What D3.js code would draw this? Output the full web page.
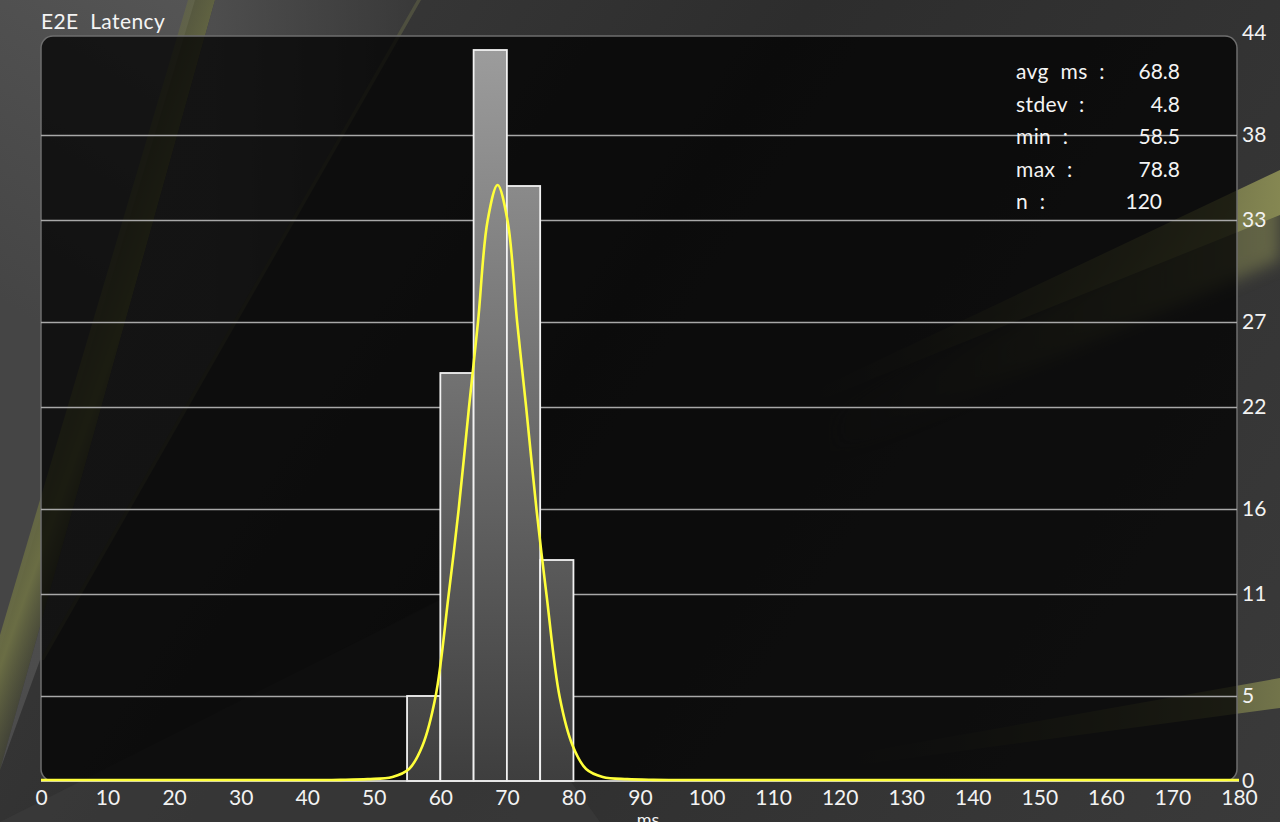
<!DOCTYPE html>
<html>
<head>
<meta charset="utf-8">
<script src="https://cdn.jsdelivr.net/npm/d3@7"></script>
<style>
  html, body { margin: 0; padding: 0; background: #333; }
  svg { display: block; font-family: Lato, "Noto Sans", sans-serif; }
  text { white-space: pre; }
</style>
</head>
<body>
<div id="chart"></div>
<script>
// histogram bins (ms) and counts
var binStarts = [55, 60, 65, 70, 75];
var binCounts = [5, 24, 43, 35, 13];
var binWidth = 5;

// fitted curve (ms, count)
var curveMs    = [0, 40, 45, 49.1, 52.8, 55.3, 57.3, 59.3, 61.25, 62.75, 64.3, 65.65, 67.1, 68.6, 70.1, 71.55, 72.9, 74.45, 75.95, 77.9, 79.9, 81.9, 84.4, 88.1, 92, 97, 180];
var curveCount = [0, 0, 0.01, 0.05, 0.18, 0.65, 2.0, 4.94, 10.9, 15.9, 21.9, 26.9, 32.9, 35.0, 32.9, 26.9, 21.9, 15.9, 10.9, 4.94, 2.0, 0.65, 0.18, 0.05, 0.01, 0, 0];

var xTicks = [0, 10, 20, 30, 40, 50, 60, 70, 80, 90, 100, 110, 120, 130, 140, 150, 160, 170, 180];
var yTicks = [0, 5, 11, 16, 22, 27, 33, 38, 44];

var statLabels = ["avg  ms  :", "stdev  :", "min  :", "max  :", "n  :"];
var statValues = ["68.8", "4.8", "58.5", "78.8", "120"];

var W = 1280, H = 822;
var svg = d3.select("#chart").append("svg")
  .attr("width", W)
  .attr("height", H);

var defs = svg.append("defs");

function linGrad(id, x1, y1, x2, y2, stops) {
  var g = defs.append("linearGradient").attr("id", id)
    .attr("gradientUnits", "userSpaceOnUse")
    .attr("x1", x1).attr("y1", y1).attr("x2", x2).attr("y2", y2);
  stops.forEach(function(s) {
    g.append("stop").attr("offset", s[0]).attr("stop-color", s[1]).attr("stop-opacity", s[2] == null ? 1 : s[2]);
  });
}

linGrad("bgBase", 0, 0, 1280, 822, [[0, "#3e3e3e"], [0.45, "#2d2d2d"], [1, "#3a3a3a"]]);
linGrad("leftLight", 0, 300, 200, 0, [[0, "#454545"], [1, "#555555"]]);
linGrad("leftStreak", 0, 380, 140, 430, [[0, "#62653f", 0.15], [0.65, "#6d7045", 0.95], [1, "#55573a", 0]]);
linGrad("topMid", 215, 0, 417, 0, [[0, "#525252"], [1, "#3a3a3a"]]);
linGrad("rightStreak", 1280, 0, 820, 0, [[0, "#858752"], [0.5, "#606240", 0.7], [1, "#4a4b35", 0]]);
linGrad("rightLow", 1280, 0, 820, 0, [[0, "#72744a"], [0.5, "#55573c", 0.6], [1, "#3a3a3a", 0]]);
linGrad("barFill", 0, 33, 0, 781, [[0, "#9e9e9e"], [1, "#3e3e3e"]]);

// soft blur for the wallpaper streaks
defs.append("filter").attr("id", "soft")
  .attr("x", "-10%").attr("y", "-20%").attr("width", "120%").attr("height", "140%")
  .append("feGaussianBlur").attr("stdDeviation", 8);

// wallpaper behind the plot
var bg = svg.append("g");
bg.append("rect").attr("width", W).attr("height", H).attr("fill", "url(#bgBase)");
bg.append("path").attr("d", "M0,0L195,0L0,650Z").attr("fill", "url(#leftLight)");
bg.append("path").attr("d", "M188,0L215,0L0,770L0,635Z").attr("fill", "url(#leftStreak)");
bg.append("path").attr("d", "M215,0L417,0L40,660L0,770Z").attr("fill", "url(#topMid)").attr("opacity", 0.8);
bg.append("path").attr("d", "M417,0L421,0L44,660L40,660Z").attr("fill", "#5f6146").attr("opacity", 0.6);
bg.append("path").attr("d", "M1280,190L1280,260L820,460L820,420Z").attr("fill", "url(#rightStreak)").attr("filter", "url(#soft)").attr("opacity", 0.6);
bg.append("path").attr("d", "M1280,170L1280,215L820,400L820,388Z").attr("fill", "url(#rightStreak)");
bg.append("path").attr("d", "M1280,678L1280,708L820,770L820,760Z").attr("fill", "url(#rightLow)");
bg.append("path").attr("d", "M0,822L440,600L600,822Z").attr("fill", "#3c3c3c").attr("opacity", 0.6);

var x = d3.scaleLinear().domain([0, 180]).range([41, 1239]);
var y = d3.scaleLinear().domain([0, 44]).range([781, 33]);

// dark plot panel
svg.append("rect")
  .attr("x", 41).attr("y", 36)
  .attr("width", 1196).attr("height", 745)
  .attr("rx", 12)
  .attr("fill", "#000")
  .attr("fill-opacity", 0.74)
  .attr("stroke", "#6e6e6e")
  .attr("stroke-width", 1.5);

// gridlines
svg.append("g").selectAll("line")
  .data(yTicks.filter(function(d) { return d > 0 && d < 44; }))
  .enter().append("line")
  .attr("x1", 41).attr("x2", 1237)
  .attr("y1", function(d) { return y(d) + 0.5; })
  .attr("y2", function(d) { return y(d) + 0.5; })
  .attr("stroke", "#a8a8a8")
  .attr("stroke-width", 1.3);

// bars
svg.append("g").selectAll("rect")
  .data(binStarts)
  .enter().append("rect")
  .attr("x", function(d) { return x(d); })
  .attr("y", function(d, i) { return y(binCounts[i]); })
  .attr("width", function(d) { return x(d + binWidth) - x(d); })
  .attr("height", function(d, i) { return y(0) - y(binCounts[i]); })
  .attr("fill", "url(#barFill)")
  .attr("stroke", "#f2f2f2")
  .attr("stroke-width", 1.8);

// baseline
svg.append("line")
  .attr("x1", 41).attr("x2", 1239)
  .attr("y1", y(0)).attr("y2", y(0))
  .attr("stroke", "#e8e8e8").attr("stroke-width", 1.5);

// fitted curve
var pts = curveMs.map(function(d, i) { return [d, curveCount[i]]; });
var line = d3.line()
  .x(function(d) { return x(d[0]); })
  .y(function(d) { return y(d[1]) - 1; })
  .curve(d3.curveCatmullRom.alpha(0.5));
svg.append("path")
  .attr("d", line(pts))
  .attr("fill", "none")
  .attr("stroke", "#ffff3a")
  .attr("stroke-width", 2.6);

// axes
var xAxis = svg.append("g")
  .attr("transform", "translate(0," + y(0) + ")")
  .call(d3.axisBottom(x).tickValues(xTicks).tickSize(0).tickPadding(9));
var yAxis = svg.append("g")
  .attr("transform", "translate(1239,0)")
  .call(d3.axisRight(y).tickValues(yTicks).tickSize(0).tickPadding(3));
[xAxis, yAxis].forEach(function(a) {
  a.select(".domain").remove();
  a.selectAll("text")
    .attr("fill", "#f2f2f2")
    .style("font-size", "21px")
    .style("font-family", "Lato, 'Noto Sans', sans-serif");
});

svg.append("text")
  .attr("x", 648).attr("y", 826)
  .attr("text-anchor", "middle")
  .attr("fill", "#f2f2f2")
  .style("font-size", "18px")
  .text("ms");

// title
svg.append("text")
  .attr("x", 41).attr("y", 29)
  .attr("fill", "#f4f4f4")
  .style("font-size", "21px")
  .style("letter-spacing", "0.4px")
  .text("E2E  Latency");

// stats box
var stats = svg.append("g");
statLabels.forEach(function(lab, i) {
  var yy = 79 + i * 32.5;
  stats.append("text")
    .attr("x", 1016).attr("y", yy)
    .attr("fill", "#f4f4f4")
    .style("font-size", "21px")
    .style("letter-spacing", "0.4px")
    .text(lab);
  stats.append("text")
    .attr("x", i == statLabels.length - 1 ? 1162 : 1180).attr("y", yy)
    .attr("text-anchor", "end")
    .attr("fill", "#f4f4f4")
    .style("font-size", "21px")
    .text(statValues[i]);
});
</script>
</body>
</html>
